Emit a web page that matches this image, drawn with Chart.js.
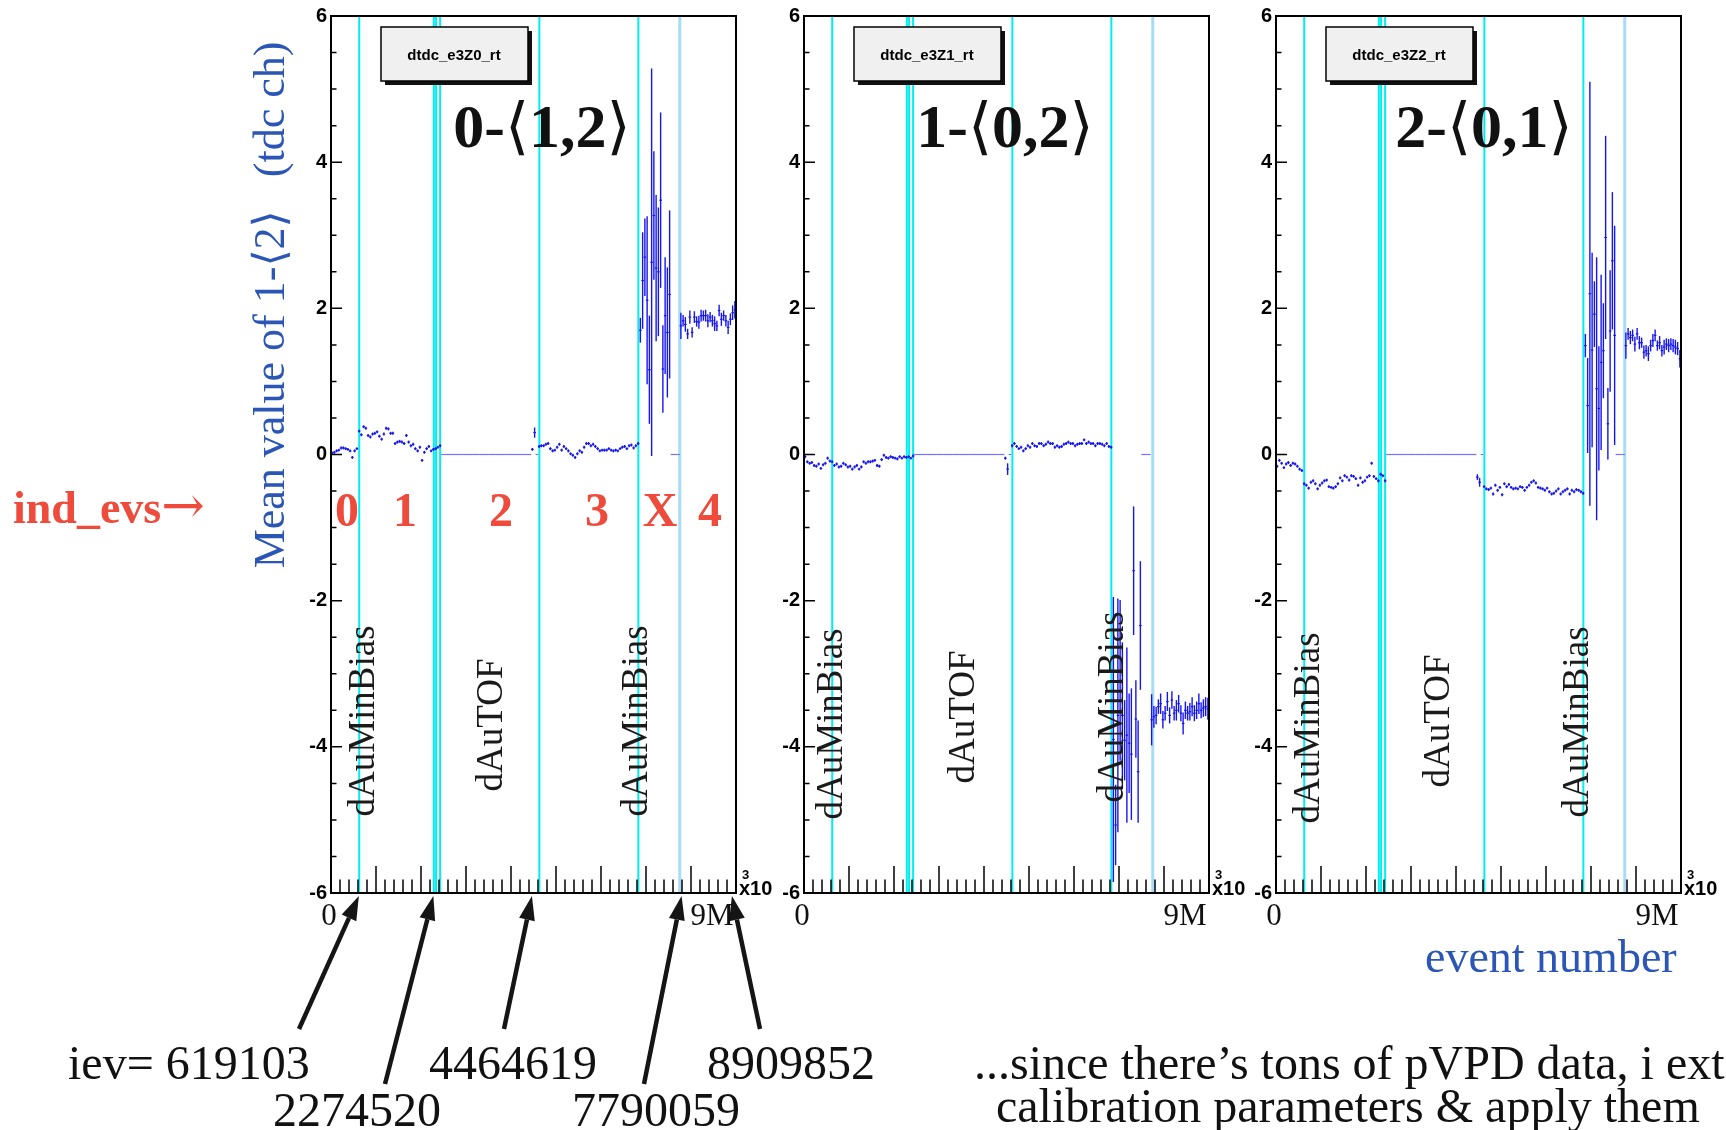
<!DOCTYPE html>
<html>
<head>
<meta charset="utf-8">
<script src="https://cdn.jsdelivr.net/npm/chart.js@4.4.1/dist/chart.umd.min.js"></script>
<style>
  body { margin:0; background:#fff; width:1726px; height:1130px; overflow:hidden; position:relative; }
  canvas { position:absolute; top:0; }
  #notes { position:absolute; left:0; top:0; }
</style>
</head>
<body>
<canvas id="c0" width="505" height="1130"></canvas>
<canvas id="c1" width="505" height="1130"></canvas>
<canvas id="c2" width="505" height="1130"></canvas>
<svg id="notes" width="1726" height="1130" xmlns="http://www.w3.org/2000/svg"></svg>
<script>
// x axis is in units of 10^3 events, 50k events per bin
const binWidth = 50;
const xMax = 9000;
const yTickLabels = ['-6', '-4', '-2', '0', '2', '4', '6'];

// run boundaries (cyan) and the late boundary (light blue), 10^3 events
const runEdges = [627, 2285, 2335, 2425, 4630, 6830];
const lateEdges = [7750];
// events the arrows point at (10^3 events)
const arrowEvents = [619.103, 2274.520, 4464.619, 7790.059, 8909.852];
const arrowLabels = ['iev= 619103', '2274520', '4464619', '7790059', '8909852'];

// mean value per bin, 0 = empty bin
const p1Mean = [
  0.02,0.03,0.05,0.06,0.09,0.09,0.08,0.07,0.05,-0.04,0.05,0.08,
  0.32,0.27,0.38,0.36,0.26,0.24,0.28,0.29,0.31,0.25,0.21,0.28,0.36,0.35,0.29,0.29,0.15,0.17,0.18,0.17,
  0.15,0.26,0.17,0.12,0.14,0.08,0.05,0.10,-0.08,0.03,0.08,0.11,0.05,0.07,
  0.08,0.10,0.12,
  0,0,0,0,0,0,0,0,0,0,0,0,0,0,0,0,0,0,0,0,0,0,0,0,0,0,0,0,0,0,0,0,0,0,0,0,0,0,0,0,
  0.07,0.30,0,
  0.11,0.12,0.12,0.14,0.15,0.08,0.05,0.06,0.10,0.14,0.06,0.11,0.08,0.05,0.01,-0.01,-0.04,0.01,0.05,0.03,
  0.10,0.15,0.15,0.12,0.14,0.11,0.08,0.05,0.06,0.06,0.06,0.08,0.06,0.05,0.06,0.05,0.08,0.10,0.11,0.08,
  0.12,0.13,0.09,0.12,0.15,
  1.70,2.38,2.70,2.11,1.16,2.63,3.27,2.55,2.50,3.48,1.17,1.90,1.67,2.19,
  0,0,0,0,
  1.76,1.83,1.78,1.65,1.88,1.67,1.88,1.82,1.81,1.90,1.90,1.90,1.83,1.88,1.83,1.79,1.76,1.97,1.85,1.90,
  1.83,1.74,1.85,1.94,1.98
];
const p2Mean = [
  -0.03,-0.10,-0.12,-0.11,-0.15,-0.16,-0.13,-0.19,-0.14,-0.12,-0.05,-0.09,
  -0.10,-0.15,-0.13,-0.17,-0.16,-0.12,-0.14,-0.17,-0.16,-0.20,-0.17,-0.15,-0.20,-0.17,-0.10,-0.12,-0.10,-0.10,-0.09,-0.08,
  -0.15,-0.16,-0.07,-0.01,-0.04,-0.05,-0.03,-0.04,-0.05,-0.06,-0.03,-0.05,-0.03,-0.04,
  -0.03,-0.05,-0.02,
  0,0,0,0,0,0,0,0,0,0,0,0,0,0,0,0,0,0,0,0,0,0,0,0,0,0,0,0,0,0,0,0,0,0,0,0,0,0,0,0,
  -0.05,-0.20,0,
  0.12,0.15,0.11,0.08,0.10,0.05,0.08,0.12,0.10,0.15,0.12,0.11,0.15,0.15,0.12,0.14,0.17,0.15,0.15,0.10,
  0.12,0.10,0.11,0.14,0.15,0.17,0.15,0.15,0.12,0.14,0.15,0.15,0.20,0.15,0.17,0.15,0.15,0.12,0.15,0.15,
  0.14,0.12,0.15,0.11,0.10,
  -3.90,-5.07,-3.57,-3.09,-3.57,-3.91,-3.84,-3.95,-4.10,-1.59,-3.62,-4.34,-2.34,
  0,0,0,0,
  -3.63,-3.59,-3.57,-3.45,-3.41,-3.63,-3.54,-3.38,-3.57,-3.36,-3.54,-3.50,-3.41,-3.54,-3.68,-3.50,-3.54,-3.52,-3.45,-3.54,
  -3.50,-3.41,-3.50,-3.47,-3.45,-3.48
];
const p3Mean = [
  -0.16,-0.08,-0.12,-0.18,-0.13,-0.11,-0.15,-0.12,-0.13,-0.16,-0.20,-0.22,
  -0.40,-0.42,-0.46,-0.38,-0.36,-0.40,-0.47,-0.42,-0.39,-0.36,-0.35,-0.44,-0.45,-0.46,-0.44,-0.40,-0.32,-0.36,-0.29,-0.31,
  -0.35,-0.29,-0.30,-0.33,-0.42,-0.32,-0.38,-0.36,-0.31,-0.29,-0.12,-0.30,-0.33,-0.36,
  -0.27,-0.29,-0.36,
  0,0,0,0,0,0,0,0,0,0,0,0,0,0,0,0,0,0,0,0,0,0,0,0,0,0,0,0,0,0,0,0,0,0,0,0,0,0,0,0,
  -0.31,-0.38,0,
  -0.44,-0.47,-0.48,-0.46,-0.54,-0.42,-0.49,-0.45,-0.55,-0.40,-0.44,-0.41,-0.45,-0.47,-0.46,-0.47,-0.44,-0.45,-0.49,-0.45,
  -0.42,-0.38,-0.36,-0.39,-0.45,-0.46,-0.47,-0.49,-0.46,-0.51,-0.54,-0.53,-0.50,-0.47,-0.54,-0.51,-0.49,-0.47,-0.54,-0.49,
  -0.51,-0.48,-0.49,-0.51,-0.53,
  1.49,0.67,2.20,1.43,1.92,0.90,0.63,1.26,1.42,2.97,0.42,1.69,2.65,1.63,
  0,0,0,0,
  1.49,1.65,1.60,1.63,1.51,1.65,1.53,1.53,1.40,1.42,1.38,1.49,1.56,1.63,1.49,1.53,1.42,1.47,1.51,1.49,
  1.51,1.49,1.47,1.45,1.31
];

// errors: small for stable bins, listed where they are bigger
const errSmall = 0.02;
const p1ErrBins = [89,90,137,138,139,140,141,142,143,144,145,146,147,148,149,150,
  155,156,157,158,159,160,161,162,163,164,165,166,167,168,169,170,171,172,173,174,175,176,177,178,179];
const p1ErrVals = [0.02,0.07,0.17,0.66,0.53,1.15,0.74,2.65,0.88,1.00,0.88,1.20,0.60,0.80,0.89,1.15,
  0.18,0.08,0.10,0.07,0.09,0.07,0.08,0.07,0.09,0.08,0.07,0.08,0.09,0.07,0.08,0.10,0.07,0.08,0.09,0.07,0.08,0.09,0.08,0.10,0.12];
const p2ErrBins = [90,137,138,139,140,141,142,143,144,145,146,147,148,149,
  154,155,156,157,158,159,160,161,162,163,164,165,166,167,168,169,170,171,172,173,174,175,176,177,178,179];
const p2ErrVals = [0.08,1.95,0.55,1.60,1.10,1.00,0.55,1.20,0.68,0.90,0.88,0.53,0.70,0.88,
  0.35,0.15,0.12,0.10,0.14,0.12,0.10,0.13,0.11,0.12,0.10,0.14,0.12,0.11,0.15,0.12,0.10,0.12,0.13,0.11,0.12,0.14,0.11,0.12,0.13,0.15];
const p3ErrBins = [89,90,137,138,139,140,141,142,143,144,145,146,147,148,149,150,
  155,156,157,158,159,160,161,162,163,164,165,166,167,168,169,170,171,172,173,174,175,176,177,178,179];
const p3ErrVals = [0.04,0.06,0.16,0.65,2.90,1.33,0.45,1.80,0.85,1.20,0.65,1.39,0.49,0.83,0.94,1.50,
  0.18,0.08,0.09,0.08,0.10,0.08,0.09,0.07,0.09,0.08,0.10,0.08,0.09,0.08,0.07,0.09,0.08,0.10,0.08,0.09,0.08,0.09,0.10,0.09,0.12];

const histNames = ['dtdc_e3Z0_rt', 'dtdc_e3Z1_rt', 'dtdc_e3Z2_rt'];
const titleNums = [['0', '1,2'], ['1', '0,2'], ['2', '0,1']];
const runLabels = ['dAuMinBias', 'dAuTOF', 'dAuMinBias'];
const regionNames = ['0', '1', '2', '3', 'X', '4'];

// layout
const panelLeft = [331, 804, 1276];
const panelW = 405;
const yAxisW = 45;
const titleCx = [211, 201, 208];
const runLabelBase = [[43, 171, 316], [38, 170, 319], [43, 173, 312]];
const runLabelCy = [[721, 725, 721], [724, 717, 707], [728, 721, 722]];
const regionCx = [347, 405, 501, 597, 660, 710];
const arrowTails = [[299, 1029], [385, 1084], [504, 1029], [644, 1084], [760, 1029]];
const arrowLabelPos = [[68, 1079], [273, 1126], [429, 1079], [572, 1126], [707, 1079]];

const serif = "'Liberation Serif','DejaVu Serif',serif";
const sans = "'Liberation Sans',Arial,sans-serif";

const panels = [p1Mean, p2Mean, p3Mean].map((mean, k) => {
  const errs = mean.map(v => v === 0 ? 0 : errSmall);
  const eb = [p1ErrBins, p2ErrBins, p3ErrBins][k], ev = [p1ErrVals, p2ErrVals, p3ErrVals][k];
  eb.forEach((b, j) => { errs[b] = ev[j]; });
  return { id: 'c' + k, k, mean, errs };
});

const rootStyle = {
  id: 'rootStyle',
  beforeDatasetsDraw(chart) {
    const { ctx, chartArea: a, scales: { x } } = chart;
    ctx.save();
    ctx.beginPath(); ctx.rect(a.left, a.top, a.width, a.height); ctx.clip();
    const vline = (v, col, w) => {
      const px = x.getPixelForValue(v);
      ctx.strokeStyle = col; ctx.lineWidth = w;
      ctx.beginPath(); ctx.moveTo(px, a.top); ctx.lineTo(px, a.bottom); ctx.stroke();
    };
    runEdges.forEach(v => vline(v, '#00eef0', 2));
    lateEdges.forEach(v => vline(v, '#a6dcf5', 3));
    ctx.restore();
  },
  afterDatasetsDraw(chart) {
    const { ctx, chartArea: a, scales: { x, y } } = chart;
    const p = panels.find(q => q.id === chart.canvas.id);
    ctx.save();
    ctx.beginPath(); ctx.rect(a.left, a.top, a.width, a.height); ctx.clip();
    // vertical error bars
    ctx.strokeStyle = '#1515f0'; ctx.lineWidth = 1.4;
    p.mean.forEach((v, i) => {
      const e = p.errs[i];
      if (v === 0 || !e) return;
      const px = x.getPixelForValue((i + 0.5) * binWidth);
      ctx.beginPath();
      ctx.moveTo(px, y.getPixelForValue(v + e));
      ctx.lineTo(px, y.getPixelForValue(v - e));
      ctx.stroke();
    });
    ctx.restore();

    // frame and inward ticks
    ctx.save();
    ctx.strokeStyle = '#000'; ctx.lineWidth = 2;
    ctx.strokeRect(a.left, a.top, a.width, a.height);
    ctx.lineWidth = 1.5;
    ctx.beginPath();
    for (let v = -6; v <= 6; v += 0.5) {
      const py = y.getPixelForValue(v);
      const len = (v % 2 === 0) ? 11 : 5.5;
      ctx.moveTo(a.left, py); ctx.lineTo(a.left + len, py);
    }
    for (let v = 200; v < xMax; v += 200) {
      const px = x.getPixelForValue(v);
      const len = (v % 1000 === 0) ? 27 : 13.5;
      ctx.moveTo(px, a.bottom); ctx.lineTo(px, a.bottom - len);
    }
    ctx.stroke();
    ctx.restore();

    // arrows to the event numbers (first panel only)
    if (p.k === 0) {
      const off = panelLeft[0] - yAxisW;
      ctx.save();
      ctx.strokeStyle = '#151515'; ctx.fillStyle = '#151515'; ctx.lineWidth = 4.5;
      arrowEvents.forEach((evt, j) => {
        const x2 = x.getPixelForValue(evt), y2 = a.bottom + 3;
        const x1 = arrowTails[j][0] - off, y1 = arrowTails[j][1];
        const ang = Math.atan2(y2 - y1, x2 - x1);
        const hl = 24, hw = 8;
        const bx = x2 - hl * Math.cos(ang), by = y2 - hl * Math.sin(ang);
        ctx.beginPath(); ctx.moveTo(x1, y1); ctx.lineTo(bx, by); ctx.stroke();
        ctx.beginPath();
        ctx.moveTo(x2, y2);
        ctx.lineTo(bx - hw * Math.sin(ang), by + hw * Math.cos(ang));
        ctx.lineTo(bx + hw * Math.sin(ang), by - hw * Math.cos(ang));
        ctx.closePath(); ctx.fill();
      });
      ctx.restore();
    }
  }
};

panels.forEach(p => {
  const cv = document.getElementById(p.id);
  cv.style.left = (panelLeft[p.k] - yAxisW) + 'px';
  new Chart(cv, {
    type: 'scatter',
    data: {
      datasets: [{
        data: p.mean.map((v, i) => ({ x: (i + 0.5) * binWidth, y: v })),
        pointStyle: 'line',
        pointRadius: 1.25,
        pointHoverRadius: 1.25,
        pointBorderWidth: 1.2,
        pointBorderColor: c => p.mean[c.dataIndex] === 0 ? '#7070ff' : '#0000e0',
        showLine: false
      }]
    },
    options: {
      responsive: false,
      animation: false,
      devicePixelRatio: 1,
      events: [],
      layout: { padding: { left: 0, top: 15, right: 505 - yAxisW - panelW, bottom: 1130 - 893 } },
      plugins: { legend: { display: false }, tooltip: { enabled: false } },
      scales: {
        x: { type: 'linear', min: 0, max: xMax, display: false },
        y: {
          type: 'linear', min: -6, max: 6,
          afterFit(s) { s.width = yAxisW; },
          grid: { display: false, drawTicks: false },
          border: { display: false },
          ticks: {
            stepSize: 2, padding: 4, color: '#000',
            font: { family: sans, weight: 'bold', size: 20 },
            callback: (v, i) => yTickLabels[i]
          }
        }
      }
    },
    plugins: [rootStyle]
  });
});

// text annotations
const svg = document.getElementById('notes');
const NS = 'http://www.w3.org/2000/svg';
// parts: list of [string, extra attributes]
function txt(x, y, parts, o = {}) {
  const t = document.createElementNS(NS, 'text');
  t.setAttribute('x', x); t.setAttribute('y', y);
  t.setAttribute('font-family', o.family || serif);
  t.setAttribute('font-size', o.size || 40);
  t.setAttribute('fill', o.color || '#111');
  if (o.weight) t.setAttribute('font-weight', o.weight);
  if (o.anchor) t.setAttribute('text-anchor', o.anchor);
  if (o.rot) t.setAttribute('transform', `rotate(${o.rot} ${x} ${y})`);
  if (typeof parts === 'string') parts = [[parts, {}]];
  parts.forEach(([s, at]) => {
    const sp = document.createElementNS(NS, 'tspan');
    Object.entries(at).forEach(([k, v]) => sp.setAttribute(k, v));
    sp.textContent = s;
    t.appendChild(sp);
  });
  svg.appendChild(t);
  return t;
}
function rect(x, y, w, h, fill, stroke) {
  const r = document.createElementNS(NS, 'rect');
  r.setAttribute('x', x); r.setAttribute('y', y);
  r.setAttribute('width', w); r.setAttribute('height', h);
  r.setAttribute('fill', fill);
  if (stroke) { r.setAttribute('stroke', stroke); r.setAttribute('stroke-width', 1.5); }
  svg.appendChild(r);
}
const thinBracket = { 'font-weight': 'normal', 'font-family': "'DejaVu Serif',serif" };

panelLeft.forEach((L, k) => {
  const R = L + panelW;
  // stats-box style label
  rect(L + 54, 31, 147, 54, '#111');
  rect(L + 50, 27, 147, 54, '#f0f0f0', '#000');
  txt(L + 123, 60, histNames[k], { family: sans, weight: 'bold', size: 15, anchor: 'middle', color: '#000' });
  // big title
  txt(L + titleCx[k], 147, [
    [titleNums[k][0] + '-', {}],
    ['\u27E8', thinBracket],
    [titleNums[k][1], {}],
    ['\u27E9', thinBracket]
  ], { weight: 'bold', size: 62, anchor: 'middle' });
  // run type labels
  runLabels.forEach((s, j) => {
    txt(L + runLabelBase[k][j], runLabelCy[k][j], s, { size: 37, anchor: 'middle', rot: -90, color: '#1a1a1a' });
  });
  // axis notes
  txt(L - 2, 925, '0', { size: 31, anchor: 'middle' });
  txt(L + 381, 925, '9M', { size: 31, anchor: 'middle' });
  txt(R + 3, 895, 'x10', { family: sans, weight: 'bold', size: 20, color: '#000' });
  txt(R + 6, 879, '3', { family: sans, weight: 'bold', size: 13, color: '#000' });
});

// region markers in the first panel
regionNames.forEach((s, j) => txt(regionCx[j], 526, s, { weight: 'bold', size: 48, anchor: 'middle', color: '#ef4b3c' }));
txt(13, 523, [['ind_evs', {}], ['\u2192', { 'font-weight': 'normal', 'font-family': "'DejaVu Serif',serif", 'font-size': 52 }]],
  { weight: 'bold', size: 46, color: '#ef4b3c' });

// y axis title
txt(284, 305, [
  ['Mean value of 1-', {}], ['\u27E8', thinBracket], ['2', {}], ['\u27E9', thinBracket],
  ['\u00A0\u00A0\u00A0(tdc ch)', {}]
], { size: 44, anchor: 'middle', rot: -90, color: '#2b56b5' });
txt(1425, 972, 'event number', { size: 46, color: '#2b56b5' });

// bottom notes
arrowLabels.forEach((s, j) => txt(arrowLabelPos[j][0], arrowLabelPos[j][1], s, { size: 48 }));
txt(974, 1079, '...since there\u2019s tons of pVPD data, i ext', { size: 48 });
txt(996, 1122, 'calibration parameters & apply them', { size: 48 });
</script>
</body>
</html>
